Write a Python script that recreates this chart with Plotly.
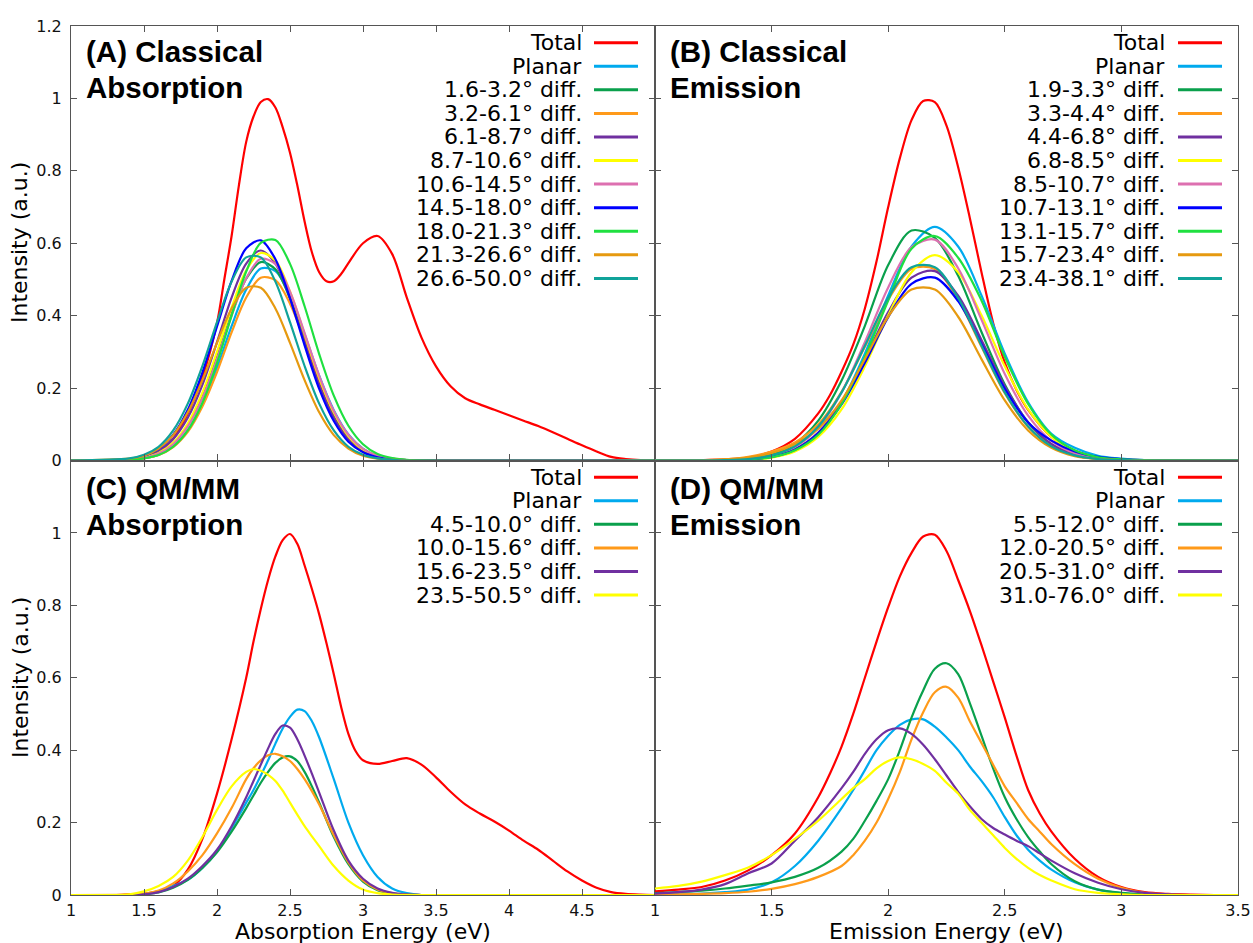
import plotly.graph_objects as go

# ------------------------------------------------------------------ data
# Panel A : classical absorption
XA_TOTAL = [1.0, 1.1, 1.2, 1.3, 1.4, 1.5, 1.6, 1.7, 1.8, 1.9, 2.0, 2.05, 2.1, 2.15, 2.2, 2.25, 2.3, 2.35, 2.4, 2.45,
            2.5, 2.55, 2.6, 2.65, 2.7, 2.75, 2.8, 2.85, 2.9, 3.0, 3.1, 3.2, 3.3, 3.4, 3.5, 3.6, 3.7, 3.8, 3.9,
            4.0, 4.1, 4.2, 4.3, 4.4, 4.5, 4.6, 4.7, 4.8, 4.9, 5.0]
A_TOTAL = [0, 0, 0, 0, 0.003, 0.01, 0.025, 0.06, 0.13, 0.23, 0.38, 0.50, 0.62, 0.76, 0.88, 0.95, 0.99, 0.998, 0.975, 0.92,
           0.85, 0.76, 0.66, 0.575, 0.52, 0.495, 0.495, 0.515, 0.545, 0.60, 0.62, 0.57, 0.45, 0.34, 0.26, 0.205, 0.172, 0.155, 0.14,
           0.125, 0.11, 0.095, 0.078, 0.06, 0.042, 0.025, 0.01, 0.004, 0.001, 0]
XA_SUB = [1.0, 1.4, 1.5, 1.6, 1.7, 1.8, 1.9, 2.0, 2.1, 2.2, 2.3, 2.4, 2.5, 2.6, 2.7, 2.8, 2.9, 3.0, 3.1, 3.2, 3.3, 5.0]
A_PLANAR = [0, 0.002, 0.006, 0.016, 0.039, 0.083, 0.156, 0.256, 0.371, 0.472, 0.530, 0.523, 0.454, 0.348, 0.234, 0.139, 0.072, 0.033, 0.013, 0.005, 0.001, 0]
A_1_6 = [0, 0.002, 0.008, 0.020, 0.047, 0.098, 0.179, 0.287, 0.404, 0.502, 0.548, 0.528, 0.447, 0.334, 0.219, 0.127, 0.064, 0.029, 0.012, 0.004, 0.001, 0]
A_3_2 = [0, 0.002, 0.006, 0.015, 0.037, 0.079, 0.149, 0.244, 0.354, 0.450, 0.505, 0.498, 0.433, 0.332, 0.223, 0.132, 0.069, 0.031, 0.012, 0.005, 0.001, 0]
A_6_1 = [0, 0.003, 0.010, 0.026, 0.059, 0.118, 0.209, 0.327, 0.450, 0.544, 0.580, 0.544, 0.450, 0.327, 0.209, 0.118, 0.059, 0.026, 0.010, 0.003, 0.001, 0]
A_8_7 = [0, 0.002, 0.008, 0.021, 0.049, 0.102, 0.187, 0.300, 0.422, 0.525, 0.573, 0.552, 0.467, 0.349, 0.229, 0.133, 0.067, 0.030, 0.013, 0.004, 0.001, 0]
A_10_6 = [0, 0.002, 0.007, 0.019, 0.045, 0.094, 0.172, 0.280, 0.400, 0.503, 0.557, 0.543, 0.466, 0.352, 0.234, 0.137, 0.071, 0.032, 0.013, 0.004, 0.001, 0]
A_14_5 = [0, 0.004, 0.013, 0.032, 0.071, 0.140, 0.243, 0.370, 0.496, 0.586, 0.608, 0.556, 0.448, 0.318, 0.198, 0.109, 0.052, 0.023, 0.009, 0.003, 0.001, 0]
A_18_0 = [0, 0.002, 0.006, 0.015, 0.038, 0.083, 0.159, 0.269, 0.400, 0.522, 0.601, 0.609, 0.543, 0.426, 0.294, 0.179, 0.096, 0.045, 0.018, 0.007, 0.002, 0]
A_21_3 = [0, 0.005, 0.013, 0.033, 0.070, 0.133, 0.222, 0.325, 0.420, 0.477, 0.477, 0.420, 0.325, 0.222, 0.133, 0.070, 0.033, 0.013, 0.005, 0.002, 0.0, 0]
A_26_6 = [0, 0.006, 0.016, 0.038, 0.083, 0.157, 0.261, 0.382, 0.494, 0.561, 0.561, 0.494, 0.382, 0.261, 0.157, 0.083, 0.038, 0.016, 0.006, 0.002, 0.0, 0]
A_LABELS = ["Total", "Planar", "1.6-3.2° diff.", "3.2-6.1° diff.", "6.1-8.7° diff.", "8.7-10.6° diff.",
            "10.6-14.5° diff.", "14.5-18.0° diff.", "18.0-21.3° diff.", "21.3-26.6° diff.", "26.6-50.0° diff."]

# Panel B : classical emission
XB_TOTAL = [1.0, 1.1, 1.2, 1.3, 1.4, 1.5, 1.6, 1.7, 1.75, 1.8, 1.85, 1.9, 1.95, 2.0, 2.05, 2.1, 2.15, 2.2, 2.25, 2.3,
            2.35, 2.4, 2.45, 2.5, 2.55, 2.6, 2.7, 2.8, 2.9, 3.0, 3.1, 3.2, 3.3, 3.4, 3.5]
B_TOTAL = [0, 0, 0.001, 0.003, 0.008, 0.025, 0.06, 0.13, 0.18, 0.245, 0.32, 0.42, 0.55, 0.70, 0.835, 0.94, 0.993, 0.99, 0.925, 0.81,
           0.67, 0.52, 0.38, 0.27, 0.195, 0.14, 0.065, 0.027, 0.01, 0.003, 0.001, 0, 0, 0, 0]
XB_SUB = [1.0, 1.2, 1.3, 1.4, 1.5, 1.6, 1.7, 1.8, 1.9, 2.0, 2.1, 2.2, 2.3, 2.4, 2.5, 2.6, 2.7, 2.8, 2.9, 3.0, 3.1, 3.5]
B_PLANAR = [0, 0, 0.001, 0.003, 0.009, 0.028, 0.074, 0.161, 0.295, 0.456, 0.591, 0.645, 0.591, 0.456, 0.295, 0.161, 0.074, 0.035, 0.013, 0.005, 0.001, 0]
B_1_9 = [0, 0, 0.001, 0.005, 0.016, 0.046, 0.110, 0.221, 0.372, 0.540, 0.635, 0.615, 0.510, 0.355, 0.210, 0.105, 0.044, 0.016, 0.005, 0.001, 0, 0]
B_3_3 = [0, 0.001, 0.003, 0.010, 0.025, 0.050, 0.100, 0.190, 0.314, 0.444, 0.529, 0.529, 0.444, 0.314, 0.186, 0.093, 0.039, 0.014, 0.004, 0.001, 0, 0]
B_4_4 = [0, 0, 0.001, 0.003, 0.011, 0.031, 0.077, 0.161, 0.280, 0.410, 0.505, 0.523, 0.455, 0.333, 0.205, 0.106, 0.046, 0.017, 0.005, 0.001, 0, 0]
B_6_8 = [0, 0, 0.001, 0.002, 0.008, 0.025, 0.065, 0.141, 0.260, 0.401, 0.520, 0.567, 0.520, 0.401, 0.260, 0.141, 0.065, 0.025, 0.008, 0.002, 0.001, 0]
B_8_5 = [0, 0, 0.001, 0.004, 0.012, 0.037, 0.090, 0.188, 0.327, 0.478, 0.589, 0.610, 0.531, 0.389, 0.239, 0.124, 0.054, 0.020, 0.006, 0.002, 0, 0]
B_10_7 = [0, 0, 0.001, 0.003, 0.010, 0.030, 0.075, 0.155, 0.270, 0.396, 0.488, 0.505, 0.440, 0.322, 0.198, 0.105, 0.055, 0.025, 0.010, 0.004, 0.001, 0]
B_13_1 = [0, 0, 0.001, 0.003, 0.009, 0.028, 0.071, 0.156, 0.286, 0.442, 0.585, 0.620, 0.560, 0.442, 0.286, 0.156, 0.071, 0.028, 0.009, 0.003, 0.001, 0]
B_15_7 = [0, 0, 0.003, 0.008, 0.020, 0.045, 0.088, 0.166, 0.280, 0.397, 0.472, 0.472, 0.397, 0.280, 0.166, 0.083, 0.035, 0.012, 0.004, 0.001, 0, 0]
B_23_4 = [0, 0, 0.001, 0.004, 0.014, 0.039, 0.094, 0.188, 0.317, 0.449, 0.534, 0.534, 0.449, 0.317, 0.188, 0.094, 0.039, 0.014, 0.004, 0.001, 0, 0]
B_LABELS = ["Total", "Planar", "1.9-3.3° diff.", "3.3-4.4° diff.", "4.4-6.8° diff.", "6.8-8.5° diff.",
            "8.5-10.7° diff.", "10.7-13.1° diff.", "13.1-15.7° diff.", "15.7-23.4° diff.", "23.4-38.1° diff."]

# Panel C : QM/MM absorption
XC_TOTAL = [1.0, 1.1, 1.2, 1.3, 1.4, 1.5, 1.6, 1.7, 1.8, 1.9, 2.0, 2.1, 2.2, 2.25, 2.3, 2.35, 2.4, 2.45, 2.5, 2.55,
            2.6, 2.65, 2.7, 2.75, 2.8, 2.85, 2.9, 2.95, 3.0, 3.1, 3.2, 3.3, 3.4, 3.5, 3.6, 3.7, 3.8, 3.9,
            4.0, 4.1, 4.2, 4.3, 4.4, 4.5, 4.6, 4.7, 4.8, 4.9, 5.0]
C_TOTAL = [0, 0, 0, 0, 0.002, 0.004, 0.01, 0.025, 0.07, 0.155, 0.28, 0.43, 0.60, 0.70, 0.79, 0.87, 0.935, 0.98, 0.997, 0.97,
           0.91, 0.845, 0.775, 0.695, 0.61, 0.52, 0.445, 0.397, 0.372, 0.362, 0.37, 0.378, 0.36, 0.325, 0.285, 0.25, 0.225, 0.203,
           0.178, 0.15, 0.125, 0.095, 0.065, 0.04, 0.02, 0.008, 0.003, 0.001, 0]
XC_SUB = [1.0, 1.4, 1.5, 1.6, 1.7, 1.8, 1.9, 2.0, 2.1, 2.2, 2.25, 2.3, 2.35, 2.4, 2.45, 2.5, 2.55, 2.6, 2.65, 2.7,
          2.8, 2.9, 3.0, 3.1, 3.2, 3.3, 3.4, 5.0]
C_PLANAR = [0, 0, 0.002, 0.010, 0.025, 0.042, 0.075, 0.120, 0.185, 0.255, 0.290, 0.330, 0.372, 0.418, 0.460, 0.492, 0.512, 0.508, 0.480, 0.435,
            0.320, 0.200, 0.110, 0.050, 0.018, 0.005, 0, 0]
C_4_5 = [0, 0, 0.002, 0.007, 0.020, 0.042, 0.075, 0.118, 0.175, 0.240, 0.275, 0.310, 0.340, 0.365, 0.380, 0.383, 0.370, 0.340, 0.300, 0.255,
         0.160, 0.085, 0.037, 0.013, 0.004, 0.001, 0, 0]
C_10_0 = [0, 0.001, 0.003, 0.012, 0.032, 0.065, 0.110, 0.170, 0.240, 0.320, 0.350, 0.372, 0.386, 0.390, 0.383, 0.370, 0.348, 0.320, 0.287, 0.250,
          0.165, 0.090, 0.040, 0.015, 0.005, 0.001, 0, 0]
C_15_6 = [0, 0, 0.002, 0.008, 0.022, 0.045, 0.080, 0.125, 0.190, 0.270, 0.315, 0.360, 0.405, 0.445, 0.468, 0.462, 0.430, 0.385, 0.335, 0.283,
          0.178, 0.095, 0.045, 0.018, 0.006, 0.001, 0, 0]
C_23_5 = [0, 0.002, 0.010, 0.025, 0.050, 0.095, 0.160, 0.235, 0.300, 0.340, 0.348, 0.343, 0.332, 0.315, 0.288, 0.255, 0.222, 0.190, 0.162, 0.135,
          0.080, 0.040, 0.015, 0.005, 0.001, 0, 0, 0]
C_LABELS = ["Total", "Planar", "4.5-10.0° diff.", "10.0-15.6° diff.", "15.6-23.5° diff.", "23.5-50.5° diff."]

# Panel D : QM/MM emission
XD_TOTAL = [1.0, 1.1, 1.2, 1.3, 1.4, 1.5, 1.6, 1.7, 1.75, 1.8, 1.85, 1.9, 1.95, 2.0, 2.05, 2.1, 2.15, 2.2, 2.25, 2.3,
            2.35, 2.4, 2.45, 2.5, 2.55, 2.6, 2.65, 2.7, 2.8, 2.9, 3.0, 3.1, 3.2, 3.3, 3.4, 3.5]
D_TOTAL = [0.01, 0.015, 0.022, 0.04, 0.068, 0.11, 0.17, 0.27, 0.335, 0.41, 0.50, 0.60, 0.70, 0.795, 0.88, 0.945, 0.99, 0.995, 0.95, 0.87,
           0.785, 0.69, 0.59, 0.49, 0.385, 0.29, 0.225, 0.175, 0.10, 0.05, 0.022, 0.008, 0.003, 0.001, 0, 0]
XD_SUB = [1.0, 1.1, 1.2, 1.3, 1.4, 1.5, 1.6, 1.7, 1.8, 1.85, 1.9, 1.95, 2.0, 2.05, 2.1, 2.15, 2.2, 2.25, 2.3, 2.35,
          2.4, 2.45, 2.5, 2.55, 2.6, 2.65, 2.7, 2.8, 2.9, 3.0, 3.1, 3.2, 3.3, 3.4, 3.5]
D_PLANAR = [0.002, 0.003, 0.004, 0.008, 0.015, 0.035, 0.080, 0.150, 0.240, 0.290, 0.345, 0.400, 0.440, 0.470, 0.485, 0.485, 0.465, 0.435, 0.400, 0.355,
            0.315, 0.270, 0.215, 0.165, 0.125, 0.095, 0.070, 0.035, 0.015, 0.005, 0.001, 0, 0, 0, 0]
D_5_5 = [0.005, 0.008, 0.012, 0.018, 0.026, 0.035, 0.050, 0.075, 0.120, 0.155, 0.205, 0.260, 0.320, 0.400, 0.490, 0.565, 0.625, 0.640, 0.610, 0.530,
         0.440, 0.350, 0.270, 0.210, 0.160, 0.120, 0.085, 0.038, 0.015, 0.006, 0.002, 0, 0, 0, 0]
D_12_0 = [0.002, 0.002, 0.003, 0.005, 0.009, 0.017, 0.030, 0.050, 0.080, 0.110, 0.150, 0.200, 0.265, 0.340, 0.430, 0.505, 0.560, 0.575, 0.545, 0.480,
          0.420, 0.360, 0.300, 0.255, 0.210, 0.175, 0.140, 0.085, 0.045, 0.020, 0.006, 0.002, 0, 0, 0]
D_20_5 = [0.004, 0.008, 0.015, 0.030, 0.060, 0.087, 0.150, 0.215, 0.295, 0.340, 0.390, 0.430, 0.455, 0.460, 0.445, 0.415, 0.375, 0.330, 0.285, 0.245,
          0.210, 0.185, 0.167, 0.150, 0.135, 0.115, 0.095, 0.060, 0.034, 0.016, 0.006, 0.002, 0, 0, 0]
D_31_0 = [0.018, 0.025, 0.037, 0.055, 0.076, 0.110, 0.155, 0.205, 0.265, 0.295, 0.320, 0.350, 0.370, 0.380, 0.375, 0.362, 0.343, 0.310, 0.280, 0.235,
          0.200, 0.165, 0.130, 0.100, 0.075, 0.055, 0.040, 0.016, 0.006, 0.002, 0, 0, 0, 0, 0]
D_LABELS = ["Total", "Planar", "5.5-12.0° diff.", "12.0-20.5° diff.", "20.5-31.0° diff.", "31.0-76.0° diff."]

X_TICKS_ABS = [1, 1.5, 2, 2.5, 3, 3.5, 4, 4.5, 5]
X_TICKTEXT_ABS = ["1", "1.5", "2", "2.5", "3", "3.5", "4", "4.5", ""]
X_TICKS_EMI = [1, 1.5, 2, 2.5, 3, 3.5]
X_TICKTEXT_EMI = ["1", "1.5", "2", "2.5", "3", "3.5"]
Y_TICKS = [0, 0.2, 0.4, 0.6, 0.8, 1.0, 1.2]
Y_TICKTEXT_TOP = ["0", "0.2", "0.4", "0.6", "0.8", "1", "1.2"]
Y_TICKTEXT_BOT = ["0", "0.2", "0.4", "0.6", "0.8", "1", ""]

# ------------------------------------------------------------------ styles
RED = "#ff0000"
LBLUE = "#00aaee"
DGREEN = "#0aa04c"
ORANGE = "#ff9a1a"
PURPLE = "#7030a0"
YELLOW = "#ffff00"
PINK = "#dd70b0"
BLUE = "#0000ff"
BGREEN = "#1fe040"
DORANGE = "#e69a10"
TEAL = "#10a39a"
COLORS_AB = [RED, LBLUE, DGREEN, ORANGE, PURPLE, YELLOW, PINK, BLUE, BGREEN, DORANGE, TEAL]
COLORS_CD = [RED, LBLUE, DGREEN, ORANGE, PURPLE, YELLOW]

W, H = 1253, 943
BORDER = "#555555"
FONT = "DejaVu Sans"


def px(x):
    return x / W


def py(y):
    return 1 - y / H


panels = [
    dict(xs=[XA_TOTAL] + [XA_SUB] * 10,
         ys=[A_TOTAL, A_PLANAR, A_1_6, A_3_2, A_6_1, A_8_7, A_10_6, A_14_5, A_18_0, A_21_3, A_26_6],
         labels=A_LABELS, colors=COLORS_AB, ax="x", ay="y"),
    dict(xs=[XB_TOTAL] + [XB_SUB] * 10,
         ys=[B_TOTAL, B_PLANAR, B_1_9, B_3_3, B_4_4, B_6_8, B_8_5, B_10_7, B_13_1, B_15_7, B_23_4],
         labels=B_LABELS, colors=COLORS_AB, ax="x2", ay="y2"),
    dict(xs=[XC_TOTAL] + [XC_SUB] * 5,
         ys=[C_TOTAL, C_PLANAR, C_4_5, C_10_0, C_15_6, C_23_5],
         labels=C_LABELS, colors=COLORS_CD, ax="x3", ay="y3"),
    dict(xs=[XD_TOTAL] + [XD_SUB] * 5,
         ys=[D_TOTAL, D_PLANAR, D_5_5, D_12_0, D_20_5, D_31_0],
         labels=D_LABELS, colors=COLORS_CD, ax="x4", ay="y4"),
]

fig = go.Figure()
for p in panels:
    for xs, ys, lab, col in zip(p["xs"], p["ys"], p["labels"], p["colors"]):
        fig.add_trace(go.Scatter(x=xs, y=ys, name=lab, mode="lines",
                                 line=dict(color=col, width=2.2, shape="spline", smoothing=0.9),
                                 xaxis=p["ax"], yaxis=p["ay"], showlegend=False,
                                 hoverinfo="skip"))

X_DOM_L = [px(71), px(655)]
X_DOM_R = [px(655), px(1238)]
Y_DOM_T = [py(460.5), py(26)]
Y_DOM_B = [py(895), py(460.5)]


def axis(domain, rng, anchor, tickvals, ticktext, show, standoff):
    return dict(domain=domain, range=rng, anchor=anchor, automargin=False,
                showline=True, linecolor=BORDER, linewidth=1.2,
                mirror="ticks", ticks="inside", ticklen=6, tickwidth=1, tickcolor=BORDER,
                tickvals=tickvals, ticktext=ticktext, showticklabels=show, showgrid=False,
                zeroline=False, tickfont=dict(family=FONT, size=16, color="#111111"),
                ticklabelstandoff=standoff, fixedrange=True)


fig.update_layout(
    width=W, height=H, margin=dict(l=0, r=0, t=0, b=0, autoexpand=False),
    paper_bgcolor="white", plot_bgcolor="white", showlegend=False,
    font=dict(family=FONT, color="black"),
    xaxis=axis(X_DOM_L, [1, 5], "y", X_TICKS_ABS, X_TICKTEXT_ABS, False, 1),
    yaxis=axis(Y_DOM_T, [0, 1.2], "x", Y_TICKS, Y_TICKTEXT_TOP, True, 5),
    xaxis2=axis(X_DOM_R, [1, 3.5], "y2", X_TICKS_EMI, X_TICKTEXT_EMI, False, 1),
    yaxis2=axis(Y_DOM_T, [0, 1.2], "x2", Y_TICKS, Y_TICKTEXT_TOP, False, 5),
    xaxis3=axis(X_DOM_L, [1, 5], "y3", X_TICKS_ABS, X_TICKTEXT_ABS, True, 1),
    yaxis3=axis(Y_DOM_B, [0, 1.2], "x3", Y_TICKS, Y_TICKTEXT_BOT, True, 5),
    xaxis4=axis(X_DOM_R, [1, 3.5], "y4", X_TICKS_EMI, X_TICKTEXT_EMI, True, 1),
    yaxis4=axis(Y_DOM_B, [0, 1.2], "x4", Y_TICKS, Y_TICKTEXT_TOP, False, 5),
)

annotations = []
shapes = []

# panel titles
titles = [("(A) Classical", "Absorption", 84, 52),
          ("(B) Classical", "Emission", 668, 52),
          ("(C) QM/MM", "Absorption", 84, 488),
          ("(D) QM/MM", "Emission", 668, 488)]
for l1, l2, x0, y0 in titles:
    for k, t in enumerate([l1, l2]):
        annotations.append(dict(text="<b>%s</b>" % t, x=px(x0), y=py(y0 + 36 * k), xref="paper", yref="paper",
                                xanchor="left", yanchor="middle", showarrow=False,
                                font=dict(family="Liberation Sans", size=29.5, color="black")))

# legends (gnuplot style: right aligned text, sample line on the right)
legend_specs = [(panels[0], 584, 594, 638, 42.7),
                (panels[1], 1167, 1178, 1222, 42.7),
                (panels[2], 584, 594, 638, 477.2),
                (panels[3], 1167, 1178, 1222, 477.2)]
for p, tx, lx0, lx1, ytop in legend_specs:
    for i, (lab, col) in enumerate(zip(p["labels"], p["colors"])):
        yy = ytop + 23.57 * i
        annotations.append(dict(text=lab, x=px(tx), y=py(yy), xref="paper", yref="paper",
                                xanchor="right", yanchor="middle", showarrow=False,
                                font=dict(family=FONT, size=22, color="black")))
        shapes.append(dict(type="line", xref="paper", yref="paper", x0=px(lx0), x1=px(lx1),
                           y0=py(yy), y1=py(yy), line=dict(color=col, width=3)))

# axis titles
for yc in (243, 678):
    annotations.append(dict(text="Intensity (a.u.)", x=px(20), y=py(yc), xref="paper", yref="paper",
                            xanchor="center", yanchor="middle", textangle=-90, showarrow=False,
                            font=dict(family=FONT, size=22, color="black")))
annotations.append(dict(text="Absorption Energy (eV)", x=px(363), y=py(931), xref="paper", yref="paper",
                        xanchor="center", yanchor="middle", showarrow=False,
                        font=dict(family=FONT, size=22, color="black")))
annotations.append(dict(text="Emission Energy (eV)", x=px(946.5), y=py(931), xref="paper", yref="paper",
                        xanchor="center", yanchor="middle", showarrow=False,
                        font=dict(family=FONT, size=22, color="black")))

fig.update_layout(annotations=annotations, shapes=shapes)
fig.write_html("out.html",
               post_script="document.body.style.margin='0';document.body.style.overflow='hidden';")
